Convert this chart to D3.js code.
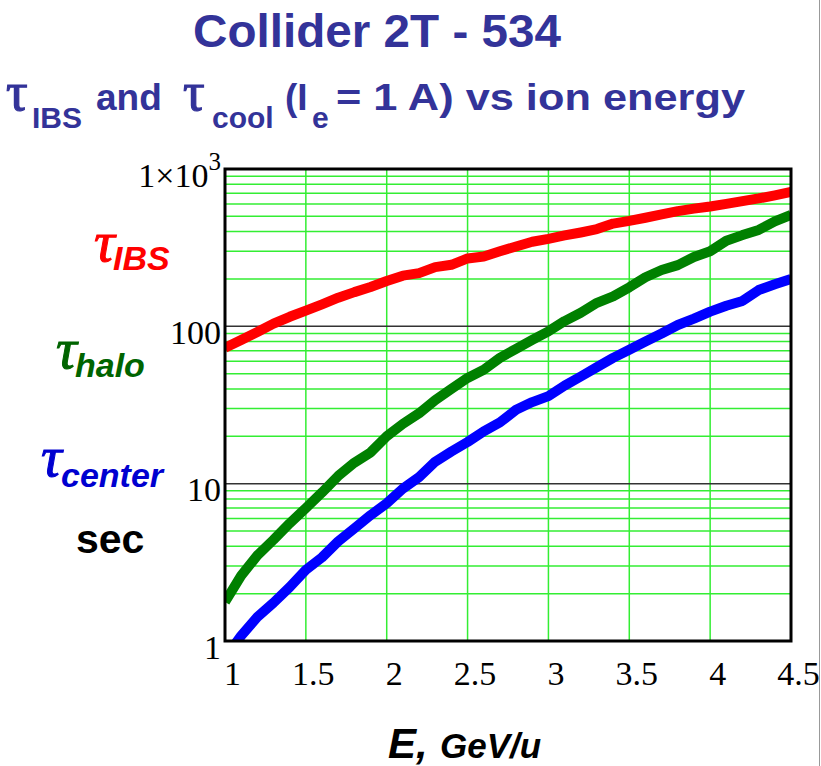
<!DOCTYPE html>
<html>
<head>
<meta charset="utf-8">
<script src="https://cdn.jsdelivr.net/npm/d3@7"></script>
<style>
  body { margin: 0; background: #fff; }
  svg { display: block; }
  .tick text { font-family: "Liberation Serif", "Times New Roman", serif; font-size: 34px; fill: #000; }
  .lab { font-family: "Liberation Sans", Arial, sans-serif; font-weight: bold; }
  .tau { font-family: "Liberation Serif", "Times New Roman", serif; font-weight: normal; }
</style>
</head>
<body>
<script>
// ion energy, GeV/u
var energy = [1.0, 1.1, 1.2, 1.3, 1.4, 1.5, 1.6, 1.7, 1.8, 1.9,
              2.0, 2.1, 2.2, 2.3, 2.4, 2.5, 2.6, 2.7, 2.8, 2.9,
              3.0, 3.1, 3.2, 3.3, 3.4, 3.5, 3.6, 3.7, 3.8, 3.9,
              4.0, 4.1, 4.2, 4.3, 4.4, 4.5];
// times in sec
var tauIBS = [73, 82, 92, 104, 115, 126, 138, 152, 165, 178,
              194, 210, 218, 238, 246, 270, 278, 300, 322, 345,
              360, 378, 395, 415, 450, 468, 490, 515, 540, 560,
              578, 600, 625, 650, 680, 715];
var tauHalo = [1.77, 2.6, 3.5, 4.4, 5.6, 7.0, 8.8, 11.2, 13.6, 15.8,
               20, 24, 28, 34, 40, 47, 53, 63, 72, 82,
               93, 108, 122, 141, 155, 177, 205, 228, 245, 276,
               300, 350, 380, 410, 465, 511];
var tauCenter = [0.78, 1.08, 1.42, 1.75, 2.2, 2.83, 3.4, 4.3, 5.2, 6.3,
                 7.5, 9.3, 11, 13.8, 16, 18.4, 21.5, 24.5, 29.5, 33,
                 36, 42, 48, 55, 63, 71, 80, 90, 102, 112,
                 124, 135, 145, 170, 185, 200];

var xTicks = [1, 1.5, 2, 2.5, 3, 3.5, 4, 4.5];
var yTicks = [1, 10, 100, 1000];

var width = 821, height = 766;
var pLeft = 225, pRight = 791, pTop = 169, pBottom = 641;

var svg = d3.select("body").append("svg")
  .attr("width", width)
  .attr("height", height);

var x = d3.scaleLinear().domain([1, 4.5]).range([pLeft, pRight]);
var y = d3.scaleLog().domain([1, 1000]).range([pBottom, pTop]);

// thin grey line on the right edge of the slide
svg.append("line")
  .attr("x1", 819.5).attr("x2", 819.5)
  .attr("y1", 0).attr("y2", height)
  .attr("stroke", "#999").attr("stroke-width", 1);

// grid
var minor = [];
[1, 10, 100].forEach(function (d) {
  for (var k = 2; k <= 9; k++) minor.push(d * k);
});

svg.append("g").selectAll("line").data(minor).enter().append("line")
  .attr("x1", pLeft).attr("x2", pRight)
  .attr("y1", function (d) { return y(d); })
  .attr("y2", function (d) { return y(d); })
  .attr("stroke", "#33ee33").attr("stroke-width", 1.5);

svg.append("g").selectAll("line").data(xTicks.slice(1, -1)).enter().append("line")
  .attr("x1", function (d) { return x(d); })
  .attr("x2", function (d) { return x(d); })
  .attr("y1", pTop).attr("y2", pBottom)
  .attr("stroke", "#33ee33").attr("stroke-width", 1.5);

svg.append("g").selectAll("line").data([10, 100]).enter().append("line")
  .attr("x1", pLeft).attr("x2", pRight)
  .attr("y1", function (d) { return y(d); })
  .attr("y2", function (d) { return y(d); })
  .attr("stroke", "#333").attr("stroke-width", 1.5);

// curves
svg.append("clipPath").attr("id", "plot")
  .append("rect")
  .attr("x", pLeft).attr("y", pTop)
  .attr("width", pRight - pLeft).attr("height", pBottom - pTop);

var series = [
  { vals: tauIBS, color: "#ff0000" },
  { vals: tauHalo, color: "#008000" },
  { vals: tauCenter, color: "#0000ff" }
];

var line = d3.line()
  .x(function (d) { return x(d[0]); })
  .y(function (d) { return y(d[1]); });

svg.append("g").attr("clip-path", "url(#plot)")
  .selectAll("path").data(series).enter().append("path")
  .attr("d", function (s) { return line(d3.zip(energy, s.vals)); })
  .attr("fill", "none")
  .attr("stroke", function (s) { return s.color; })
  .attr("stroke-width", 10)
  .attr("stroke-linejoin", "round");

// frame
svg.append("rect")
  .attr("x", pLeft).attr("y", pTop)
  .attr("width", pRight - pLeft).attr("height", pBottom - pTop)
  .attr("fill", "none").attr("stroke", "#000").attr("stroke-width", 3);

// axes
var xAxis = svg.append("g")
  .attr("transform", "translate(0," + pBottom + ")")
  .call(d3.axisBottom(x).tickValues(xTicks).tickSize(0).tickPadding(20)
    .tickFormat(function (d) { return String(d); }));
xAxis.select(".domain").remove();
xAxis.selectAll("text").attr("dx", 7);

var yAxis = svg.append("g")
  .attr("transform", "translate(" + pLeft + ",0)")
  .call(d3.axisLeft(y).tickValues(yTicks).tickSize(0).tickPadding(4)
    .tickFormat(function (d) { return d === 1000 ? "" : String(d); }));
yAxis.select(".domain").remove();
yAxis.selectAll("text").attr("dy", "0.5em");
var topLab = yAxis.selectAll(".tick").filter(function (d) { return d === 1000; }).select("text");
topLab.append("tspan").text("1\u00d710");
topLab.append("tspan").attr("dy", -17).attr("font-size", 25).text("3");

// titles
var navy = "#333399";
svg.append("text").attr("class", "lab")
  .attr("x", 377).attr("y", 47)
  .attr("text-anchor", "middle")
  .attr("font-size", 46)
  .attr("textLength", 368).attr("lengthAdjust", "spacingAndGlyphs")
  .attr("fill", navy)
  .text("Collider 2T - 534");

var sub = svg.append("text").attr("class", "lab")
  .attr("y", 110).attr("font-size", 37).attr("fill", navy);
sub.append("tspan").attr("class", "tau").attr("x", 6).attr("font-size", 54)
  .attr("stroke", navy).attr("stroke-width", 1.2).text("\u03c4");
sub.append("tspan").attr("x", 32).attr("dy", 18).attr("font-size", 30).text("IBS");
sub.append("tspan").attr("x", 96).attr("dy", -18).text("and");
sub.append("tspan").attr("class", "tau").attr("x", 183).attr("font-size", 54)
  .attr("stroke", navy).attr("stroke-width", 1.2).text("\u03c4");
sub.append("tspan").attr("x", 212).attr("dy", 18).attr("font-size", 30).text("cool");
sub.append("tspan").attr("x", 285).attr("dy", -18).text("(I");
sub.append("tspan").attr("x", 312).attr("dy", 18).attr("font-size", 30).text("e");
sub.append("tspan").attr("x", 336).attr("dy", -18).attr("textLength", 409)
  .attr("lengthAdjust", "spacingAndGlyphs").text("= 1 A) vs ion energy");

// curve labels on the left
var labels = [
  { sub: "IBS", color: "#ff0000", tx: 94, ty: 261, sx: 113, sy: 270 },
  { sub: "halo", color: "#006400", tx: 56, ty: 368, sx: 75, sy: 377 },
  { sub: "center", color: "#0000d0", tx: 41, ty: 476, sx: 61, sy: 487 }
];
labels.forEach(function (l) {
  svg.append("text").attr("class", "tau")
    .attr("x", l.tx).attr("y", l.ty)
    .attr("font-size", 58).attr("font-style", "italic")
    .attr("stroke", l.color).attr("stroke-width", 1)
    .attr("fill", l.color).text("\u03c4");
  svg.append("text").attr("class", "lab")
    .attr("x", l.sx).attr("y", l.sy)
    .attr("font-size", 34).attr("font-style", "italic")
    .attr("fill", l.color).text(l.sub);
});
svg.append("text").attr("class", "lab")
  .attr("x", 76).attr("y", 553)
  .attr("font-size", 41).attr("fill", "#000")
  .text("sec");

// x axis title
var xt = svg.append("text").attr("class", "lab")
  .attr("x", 388).attr("y", 758)
  .attr("font-style", "italic").attr("fill", "#000");
xt.append("tspan").attr("font-size", 42).text("E,");
xt.append("tspan").attr("x", 440).attr("font-size", 35).text("GeV/u");
</script>
</body>
</html>
